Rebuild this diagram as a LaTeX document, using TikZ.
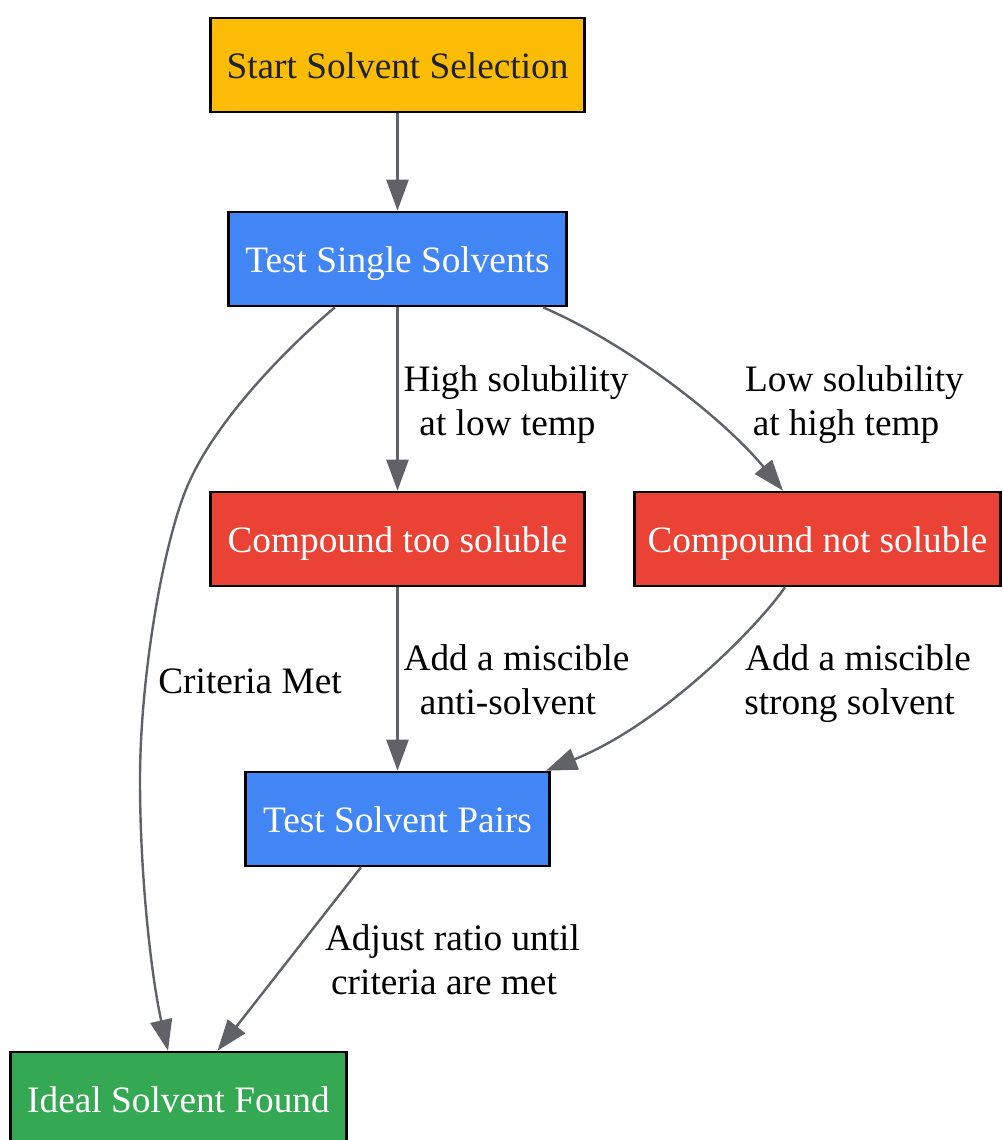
\documentclass[tikz,border=0pt]{standalone}
\usepackage{fontspec}
\setmainfont{Liberation Serif}
\usetikzlibrary{arrows.meta}
\definecolor{cyellow}{HTML}{FBBC05}
\definecolor{cblue}{HTML}{4285F4}
\definecolor{cred}{HTML}{EA4335}
\definecolor{cgreen}{HTML}{34A853}
\definecolor{cdark}{HTML}{202124}
\definecolor{cgray}{HTML}{5F6368}
\begin{document}
\begin{tikzpicture}[x=1pt,y=-1pt,
  box/.style={draw=black, line width=2.6pt, inner sep=0pt, text height=26pt, text depth=0pt,
    font=\fontsize{37.3}{44}\selectfont, minimum height=94pt},
  edge/.style={draw=cgray, line width=2.4pt, -{Triangle[length=31pt,width=22pt]}},
  lbl/.style={font=\fontsize{37.3}{44}\selectfont, align=center, inner sep=0pt, text=black}]
\useasboundingbox (0,0) rectangle (1002,1140);
\node[box, fill=cyellow, text=cdark, minimum width=374pt] (start) at (397.5,65) {Start Solvent Selection};
\node[box, fill=cblue, text=white, minimum width=338pt] (single) at (397.5,259) {Test Single Solvents};
\node[box, fill=cred, text=white, minimum width=374pt] (too) at (397.5,539) {Compound too soluble};
\node[box, fill=cred, text=white, minimum width=366pt] (not) at (817.5,539) {Compound not soluble};
\node[box, fill=cblue, text=white, minimum width=304pt] (pairs) at (397.5,819) {Test Solvent Pairs};
\node[box, fill=cgreen, text=white, minimum width=336pt] (ideal) at (178.5,1099) {Ideal Solvent Found};

\draw[edge] (start) -- (single);
\draw[edge] (single) -- (too);
\draw[edge] ([xshift=145.5pt]single.south) .. controls (630,345) and (725,420) .. ([xshift=-34.5pt]not.north);
\draw[edge] ([xshift=-62.5pt]single.south) .. controls (290,345) and (215,420) .. (187,487)
  .. controls (162,547) and (140,680) .. (140,780)
  .. controls (140,880) and (152,980) .. ([xshift=-10.5pt]ideal.north);
\draw[edge] (too) -- (pairs);
\draw[edge] ([xshift=-32.5pt]not.south) .. controls (755,630) and (660,725) .. ([xshift=148.5pt]pairs.north);
\draw[edge] ([xshift=-36.5pt]pairs.south) -- ([xshift=39pt]ideal.north);

\node[lbl] (l1) at (516,404.5) {High solubility\\at low temp\hspace*{17pt}};
\node[lbl] (l2) at (854.5,404.5) {Low solubility\\at high temp\hspace*{17pt}};
\node[lbl] (l3) at (516.5,680.2) {Add a miscible\\anti-solvent\hspace*{17pt}};
\node[lbl] (l4) at (858,684) {Add a miscible\\strong solvent\hspace*{17pt}};
\node[lbl] (l5) at (452.5,960.2) {Adjust ratio until\\criteria are met\hspace*{17pt}};
\node[lbl, anchor=base] (l6) at (250,693) {Criteria Met};
\end{tikzpicture}
\end{document}
